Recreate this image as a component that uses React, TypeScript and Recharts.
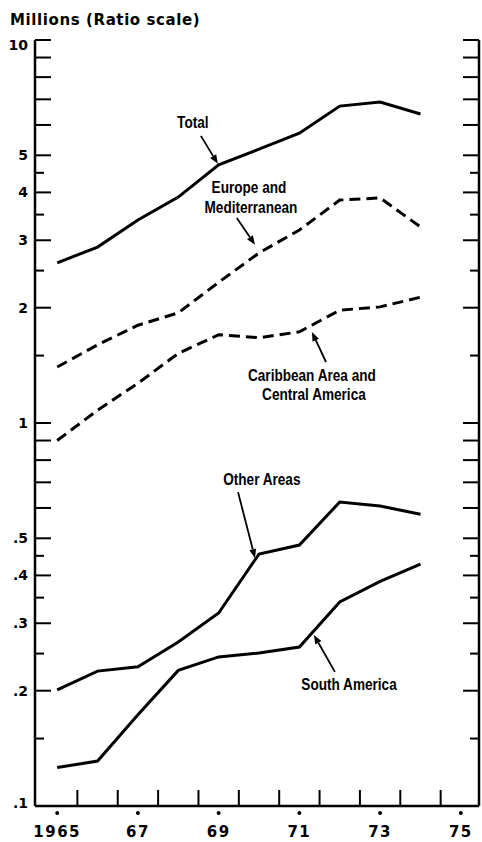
import { Line, LineChart, ReferenceDot, ReferenceLine, XAxis, YAxis } from 'recharts'

const years = [1965, 1966, 1967, 1968, 1969, 1970, 1971, 1972, 1973, 1974]
const total = [2.62, 2.88, 3.39, 3.89, 4.72, 5.19, 5.71, 6.72, 6.89, 6.41]
const europe = [1.4, 1.6, 1.8, 1.94, 2.33, 2.78, 3.19, 3.82, 3.87, 3.25]
const caribbean = [0.9, 1.08, 1.27, 1.52, 1.7, 1.67, 1.73, 1.97, 2.01, 2.13]
const otherAreas = [0.201, 0.225, 0.231, 0.268, 0.319, 0.455, 0.48, 0.622, 0.607, 0.578]
const southAmerica = [0.126, 0.131, 0.173, 0.226, 0.245, 0.251, 0.26, 0.341, 0.386, 0.428]

const yLongTicks = [0.1, 0.2, 0.3, 0.4, 0.5, 0.6, 0.7, 0.8, 0.9, 1, 2, 3, 4, 5, 6, 7, 8, 9, 10]
const yShortTicks = [0.15, 0.25, 0.35, 0.45, 1.5, 2.5, 3.5, 4.5]
const yTickLabels: [number, string][] = [
  [10, '10'], [5, '5'], [4, '4'], [3, '3'], [2, '2'], [1, '1'],
  [0.5, '.5'], [0.4, '.4'], [0.3, '.3'], [0.2, '.2'], [0.1, '.1'],
]
const xLabelYears: [number, string][] = [
  [1965, '1965'], [1967, '67'], [1969, '69'], [1971, '71'], [1973, '73'], [1975, '75'],
]
const xBoundaryTicks = [1965.5, 1966.5, 1967.5, 1968.5, 1969.5, 1970.5, 1971.5, 1972.5, 1973.5, 1974.5]

// annotation text and arrows, in data units
const notes: { x: number; y: number; text: string }[] = [
  { x: 1968.36, y: 6.11, text: 'Total' },
  { x: 1969.75, y: 4.13, text: 'Europe and' },
  { x: 1969.8, y: 3.66, text: 'Mediterranean' },
  { x: 1971.31, y: 1.335, text: 'Caribbean Area and' },
  { x: 1971.36, y: 1.19, text: 'Central America' },
  { x: 1970.07, y: 0.714, text: 'Other Areas' },
  { x: 1972.23, y: 0.208, text: 'South America' },
]
const arrows: [number, number, number, number][] = [
  [1968.56, 5.62, 1968.98, 4.75],
  [1969.45, 3.43, 1969.9, 2.92],
  [1971.66, 1.443, 1971.31, 1.728],
  [1969.48, 0.66, 1969.9, 0.444],
  [1971.88, 0.2239, 1971.36, 0.2796],
]

const chartData = years.map((year, i) => ({
  year,
  total: total[i],
  europe: europe[i],
  caribbean: caribbean[i],
  otherAreas: otherAreas[i],
  southAmerica: southAmerica[i],
}))

const xDomain = [1964.45, 1975.45]
const labelFont = '"DejaVu Sans", sans-serif'
const noteFont = '"Liberation Sans", Arial, sans-serif'

const labelFor = (v: number) => yTickLabels.find((d) => d[0] === v)?.[1]

function LeftTick(props: any) {
  const { x, y, payload } = props
  const v = payload.value
  const len = yShortTicks.includes(v) ? 9 : 16
  const label = labelFor(v)
  let dy = 0
  if (v === 10) dy = 5
  if (v === 0.1) dy = -3
  return (
    <g>
      <line x1={x} y1={y} x2={x + len} y2={y} stroke="#000" strokeWidth={2} />
      {label && (
        <text
          x={x - 7}
          y={y + dy}
          textAnchor="end"
          dominantBaseline="central"
          fontFamily={labelFont}
          fontWeight="bold"
          fontSize={14}
          fill="#000"
        >
          {label}
        </text>
      )}
    </g>
  )
}

function RightTick(props: any) {
  const { x, y, payload } = props
  const len = yShortTicks.includes(payload.value) ? 9 : 16
  return <line x1={x} y1={y} x2={x - len} y2={y} stroke="#000" strokeWidth={2} />
}

function BottomTick(props: any) {
  const { x, y, payload } = props
  const v = payload.value
  const label = xLabelYears.find((d) => d[0] === v)?.[1]
  if (!label) {
    return <line x1={x} y1={y} x2={x} y2={y - 16} stroke="#000" strokeWidth={2} />
  }
  return (
    <g>
      <circle cx={x} cy={y + 7} r={2} fill="#000" />
      <text
        x={x}
        y={y + 31}
        textAnchor="middle"
        fontFamily={labelFont}
        fontWeight="bold"
        fontSize={15}
        letterSpacing={1.5}
        fill="#000"
      >
        {label}
      </text>
    </g>
  )
}

function Arrow(props: any) {
  const { x1, y1, x2, y2 } = props
  if ([x1, y1, x2, y2].some((n) => typeof n !== 'number' || isNaN(n))) return <g />
  const dx = x2 - x1
  const dy = y2 - y1
  const d = Math.sqrt(dx * dx + dy * dy) || 1
  const ux = dx / d
  const uy = dy / d
  const hl = 9
  const hw = 3.5
  const bx = x2 - ux * hl
  const by = y2 - uy * hl
  return (
    <g>
      <line x1={x1} y1={y1} x2={bx} y2={by} stroke="#000" strokeWidth={1.8} />
      <polygon
        points={`${x2},${y2} ${bx - uy * hw},${by + ux * hw} ${bx + uy * hw},${by - ux * hw}`}
        fill="#000"
      />
    </g>
  )
}

function NoteText({ cx, cy, text }: { cx: number; cy: number; text: string }) {
  // condensed look: squeeze a regular bold face horizontally
  return (
    <g transform={`translate(${cx},${cy}) scale(0.8,1)`}>
      <text
        x={0}
        y={0}
        textAnchor="middle"
        dominantBaseline="central"
        fontFamily={noteFont}
        fontWeight="bold"
        fontSize={17}
        fill="#000"
      >
        {text}
      </text>
    </g>
  )
}

export default function App() {
  return (
    <div style={{ position: 'absolute', left: 0, top: 0, width: 482, height: 842, background: '#fff' }}>
      <div
        style={{
          position: 'absolute',
          left: 10,
          top: 12,
          fontFamily: labelFont,
          fontWeight: 'bold',
          fontSize: 15,
          letterSpacing: 0.6,
          lineHeight: '17px',
          color: '#000',
        }}
      >
        Millions (Ratio scale)
      </div>
      <LineChart width={482} height={842} data={chartData} margin={{ top: 40, right: 0, bottom: 0, left: 0 }}>
        <XAxis
          dataKey="year"
          type="number"
          domain={xDomain}
          allowDataOverflow
          ticks={[...xLabelYears.map((d) => d[0]), ...xBoundaryTicks]}
          interval={0}
          tick={<BottomTick />}
          tickLine={false}
          tickSize={0}
          tickMargin={0}
          height={36}
          axisLine={{ stroke: '#000', strokeWidth: 2.5 }}
        />
        <XAxis
          xAxisId="top"
          orientation="top"
          type="number"
          domain={xDomain}
          allowDataOverflow
          tick={false}
          tickLine={false}
          height={0}
          axisLine={{ stroke: '#000', strokeWidth: 1.5 }}
        />
        <YAxis
          yAxisId={0}
          scale="log"
          domain={[0.1, 10]}
          allowDataOverflow
          ticks={[...yLongTicks, ...yShortTicks]}
          interval={0}
          tick={<LeftTick />}
          tickLine={false}
          tickSize={0}
          tickMargin={0}
          width={35}
          axisLine={{ stroke: '#000', strokeWidth: 2.5 }}
        />
        <YAxis
          yAxisId="right"
          orientation="right"
          scale="log"
          domain={[0.1, 10]}
          allowDataOverflow
          ticks={[...yLongTicks, ...yShortTicks]}
          interval={0}
          tick={<RightTick />}
          tickLine={false}
          tickSize={0}
          tickMargin={0}
          width={3}
          axisLine={{ stroke: '#000', strokeWidth: 2.5 }}
        />
        <Line dataKey="total" type="linear" stroke="#000" strokeWidth={3} dot={false} isAnimationActive={false} />
        <Line
          dataKey="europe"
          type="linear"
          stroke="#000"
          strokeWidth={3}
          strokeDasharray="11 6"
          dot={false}
          isAnimationActive={false}
        />
        <Line
          dataKey="caribbean"
          type="linear"
          stroke="#000"
          strokeWidth={3}
          strokeDasharray="11 6"
          dot={false}
          isAnimationActive={false}
        />
        <Line dataKey="otherAreas" type="linear" stroke="#000" strokeWidth={3} dot={false} isAnimationActive={false} />
        <Line dataKey="southAmerica" type="linear" stroke="#000" strokeWidth={3} dot={false} isAnimationActive={false} />
        {arrows.map((a, i) => (
          <ReferenceLine
            key={`arrow-${i}`}
            segment={[
              { x: a[0], y: a[1] },
              { x: a[2], y: a[3] },
            ]}
            shape={(p: any) => <Arrow {...p} />}
          />
        ))}
        {notes.map((n) => (
          <ReferenceDot
            key={n.text}
            x={n.x}
            y={n.y}
            r={0}
            shape={(p: any) => <NoteText cx={p.cx} cy={p.cy} text={n.text} />}
          />
        ))}
      </LineChart>
    </div>
  )
}
